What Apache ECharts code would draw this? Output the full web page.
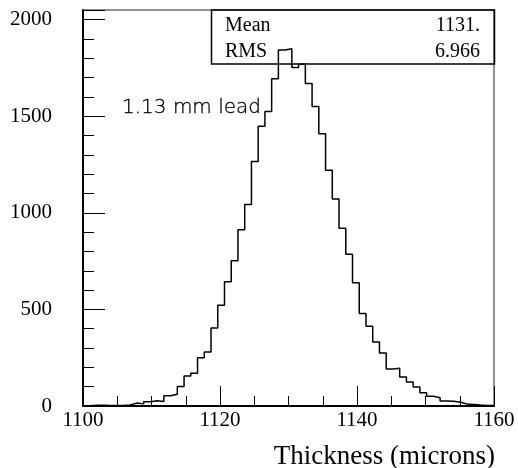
<!DOCTYPE html>
<html><head><meta charset="utf-8">
<script src="https://cdn.jsdelivr.net/npm/echarts@6/dist/echarts.min.js"></script>
<style>html,body{margin:0;padding:0;background:#fff}#c{width:518px;height:468px}</style>
</head><body><div id="c"></div>
<script>
// Histogram: 61 equal bins spanning 1100..1160 microns
const binLow = 1100;
const binHigh = 1160;
const counts = [1, 4, 4, 2, 3, 3, 5, 15, 11, 22,
  27, 23, 53, 61, 101, 155, 170, 250, 280, 404,
  522, 643, 752, 912, 1043, 1266, 1448, 1524, 1694, 1843,
  1849, 1752, 1769, 1670, 1551, 1410, 1221, 1071, 920, 786,
  638, 479, 413, 331, 274, 192, 196, 150, 124, 98,
  69, 51, 43, 26, 24, 20, 10, 8, 5, 3, 2];
const xTickValues = [1100, 1120, 1140, 1160];
const yTickValues = [0, 500, 1000, 1500, 2000];
const statNames = ['Mean', 'RMS'];
const statValues = ['1131.', '6.966'];
const annotation = '1.13 mm lead';
const xTitle = 'Thickness (microns)';

const nb = counts.length;
const bw = (binHigh - binLow) / nb;
const pts = [[binLow, 0]];
counts.forEach((c, i) => pts.push([binLow + i * bw, c]));
pts.push([binHigh, counts[nb - 1]]);
pts.push([binHigh, 0]);

const serif = 'Liberation Serif';
const chart = echarts.init(document.getElementById('c'), null, {renderer: 'canvas'});
chart.setOption({
  animation: false,
  backgroundColor: '#fff',
  grid: {left: 83, right: 24, top: 10, bottom: 62, show: true, borderColor: '#222', borderWidth: 1},
  xAxis: {
    type: 'value', min: xTickValues[0], max: xTickValues[xTickValues.length - 1], interval: 20,
    axisLine: {show: true, onZero: false, lineStyle: {color: '#000', width: 2}},
    axisTick: {show: true, inside: true, length: 20, lineStyle: {color: '#000', width: 1}},
    minorTick: {show: true, splitNumber: 4, length: 10, lineStyle: {color: '#000', width: 1}},
    axisLabel: {color: '#000', fontFamily: serif, fontSize: 21, margin: 4, formatter: v => String(v)},
    splitLine: {show: false}
  },
  yAxis: {
    type: 'value', min: 0, max: 2050, interval: 500,
    axisLine: {show: true, lineStyle: {color: '#000', width: 2}},
    axisTick: {show: true, inside: true, length: 22, lineStyle: {color: '#000', width: 1}},
    minorTick: {show: true, splitNumber: 5, length: 11, lineStyle: {color: '#000', width: 1}},
    axisLabel: {color: '#000', fontFamily: serif, fontSize: 21, margin: 31, showMaxLabel: false,
      formatter: v => yTickValues.includes(v) ? String(v) : ''},
    splitLine: {show: false}
  },
  title: {
    text: xTitle, right: 18, top: 438,
    textStyle: {fontFamily: serif, fontSize: 27, fontWeight: 'normal', color: '#000'}
  },
  series: [{
    type: 'line', data: pts, step: 'end', symbol: 'none',
    lineStyle: {color: '#000', width: 1.5}, z: 3
  }],
  graphic: [
    {type: 'rect', shape: {x: 211.5, y: 10, width: 283, height: 54}, style: {fill: 'none', stroke: '#000', lineWidth: 1.5}, z: 10},
    {type: 'text', x: 225, y: 26, style: {text: statNames[0], font: '20px "Liberation Serif"', fill: '#000', verticalAlign: 'middle', align: 'left'}, z: 11},
    {type: 'text', x: 225, y: 52, style: {text: statNames[1], font: '20px "Liberation Serif"', fill: '#000', verticalAlign: 'middle', align: 'left'}, z: 11},
    {type: 'text', x: 480, y: 26, style: {text: statValues[0], font: '20px "Liberation Serif"', fill: '#000', verticalAlign: 'middle', align: 'right'}, z: 11},
    {type: 'text', x: 480, y: 52, style: {text: statValues[1], font: '20px "Liberation Serif"', fill: '#000', verticalAlign: 'middle', align: 'right'}, z: 11},
    {type: 'text', x: 122, y: 108, style: {text: annotation, font: '300 20px "DejaVu Sans"', fill: '#000', stroke: '#000', lineWidth: 0.3, verticalAlign: 'middle', align: 'left'}, z: 11}
  ]
});
</script>
</body></html>
